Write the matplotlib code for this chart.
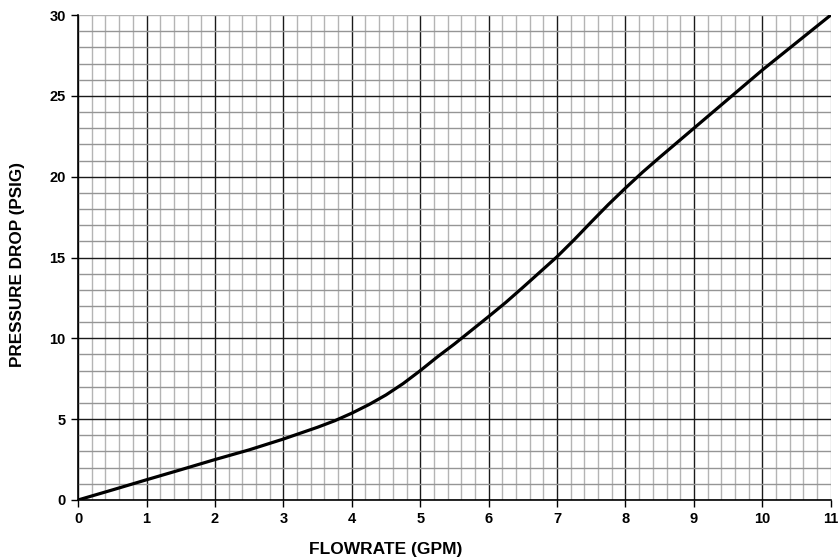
import numpy as np
import matplotlib
matplotlib.use("Agg")
import matplotlib.pyplot as plt
from matplotlib.ticker import MultipleLocator

# values
flow = [0, 0.5, 1, 1.5, 2, 2.5, 3, 3.5, 3.75, 4, 4.25, 4.5, 4.75, 5, 5.25, 5.5, 5.75,
        6, 6.25, 6.5, 6.75, 7, 7.25, 7.5, 7.75, 8, 8.25, 8.5, 9, 9.5, 10, 10.5, 11]
dp = [0, 0.62, 1.25, 1.87, 2.5, 3.1, 3.77, 4.5, 4.9, 5.37, 5.9, 6.5, 7.2, 8.0, 8.85, 9.65, 10.5,
      11.35, 12.22, 13.15, 14.1, 15.05, 16.1, 17.2, 18.28, 19.3, 20.28, 21.2, 23.0, 24.8, 26.6, 28.3, 30.0]

x_ticks = list(range(0, 12))
y_ticks = [0, 5, 10, 15, 20, 25, 30]

plt.rcParams['font.family'] = ['Liberation Sans', 'DejaVu Sans']

fig = plt.figure(figsize=(8.4, 5.58), dpi=100)
ax = fig.add_axes([0.093, 0.104, 0.896, 0.869])

ax.set_xlim(0, 11)
ax.set_ylim(0, 30)
ax.set_xticks(x_ticks)
ax.set_yticks(y_ticks)
ax.xaxis.set_minor_locator(MultipleLocator(0.2))
ax.yaxis.set_minor_locator(MultipleLocator(1))

ax.grid(which='minor', axis='x', color='#b4b4b4', lw=1)
ax.grid(which='minor', axis='y', color='#959595', lw=1)
ax.grid(which='major', color='#1a1a1a', lw=1)
ax.set_axisbelow(True)

xg = ax.xaxis.get_gridlines()
yg = ax.yaxis.get_gridlines()
xg[-1].set_color('#b4b4b4')
yg[-1].set_color('#b4b4b4')

ax.plot(flow, dp, color='black', lw=2.3, solid_capstyle='round',
        solid_joinstyle='round', zorder=3)

for s in ['top', 'right']:
    ax.spines[s].set_visible(False)
for s in ['left', 'bottom']:
    ax.spines[s].set_color('black')
    ax.spines[s].set_linewidth(1.2)

ax.tick_params(which='major', direction='out', length=5, width=1, color='black',
               labelsize=10.5, pad=4)
ax.tick_params(which='minor', length=0)
for lab in ax.get_xticklabels() + ax.get_yticklabels():
    lab.set_fontweight('bold')

ax.set_xlabel('FLOWRATE (GPM)', fontsize=12.5, fontweight='bold')
ax.set_ylabel('PRESSURE DROP (PSIG)', fontsize=12.3, fontweight='bold')
ax.xaxis.set_label_coords(0.408, -0.087)
ax.yaxis.set_label_coords(-0.070, 0.485)

fig.savefig('out.png', dpi=100)
